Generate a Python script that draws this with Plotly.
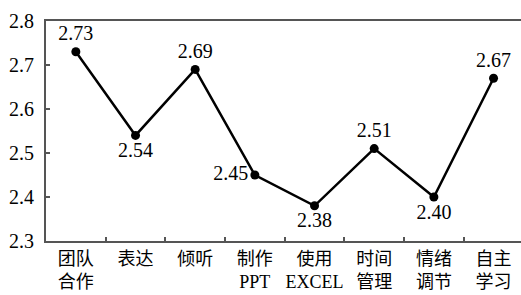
import plotly.graph_objects as go

categories = ["团队<br>合作", "表达", "倾听", "制作<br>PPT", "使用<br>EXCEL", "时间<br>管理", "情绪<br>调节", "自主<br>学习"]
values = [2.73, 2.54, 2.69, 2.45, 2.38, 2.51, 2.40, 2.67]
labels = ["2.73", "2.54", "2.69", "2.45", "2.38", "2.51", "2.40", "2.67"]
positions = ["top center", "bottom center", "top center", "middle left",
             "bottom center", "top center", "bottom center", "top center"]
y_ticks = [2.3, 2.4, 2.5, 2.6, 2.7, 2.8]

FONT = '"Liberation Serif", "Times New Roman", "Noto Sans CJK SC", serif'

fig = go.Figure()
fig.add_trace(go.Scatter(
    x=list(range(len(categories))), y=values,
    mode="lines+markers+text",
    text=labels, textposition=positions,
    textfont=dict(family=FONT, size=20, color="black"),
    line=dict(color="black", width=2.5),
    marker=dict(color="black", size=9),
    cliponaxis=False,
    hoverinfo="skip",
))

fig.update_layout(
    width=521, height=295,
    margin=dict(l=46, r=0, t=21, b=54),
    paper_bgcolor="white", plot_bgcolor="white",
    showlegend=False,
    font=dict(family=FONT, size=19, color="black"),
)
fig.update_xaxes(
    range=[-0.5, 7.46],
    automargin=False,
    tickmode="array",
    tickvals=list(range(len(categories))),
    ticktext=categories,
    showgrid=False, zeroline=False,
    showline=True, linecolor="#555555", linewidth=2, mirror=True,
    ticks="",
    tickfont=dict(family=FONT, size=18, color="black"),
    minor=dict(tickvals=[i + 0.5 for i in range(len(categories) - 1)],
               ticks="inside", ticklen=4, tickcolor="#555555", tickwidth=1.5),
)
fig.update_yaxes(
    range=[2.3, 2.8],
    automargin=False,
    tickmode="array", tickvals=y_ticks,
    ticktext=[f"{v:.1f}" for v in y_ticks],
    showgrid=False, zeroline=False,
    showline=True, linecolor="#555555", linewidth=2,
    ticks="inside", ticklen=4, tickcolor="#555555", tickwidth=1.5,
    tickfont=dict(family=FONT, size=20, color="black"),
    ticklabelstandoff=6,
)

fig.write_html("out.html",
               config={"displayModeBar": False},
               post_script="document.body.style.margin='0';document.body.style.overflow='hidden';")
